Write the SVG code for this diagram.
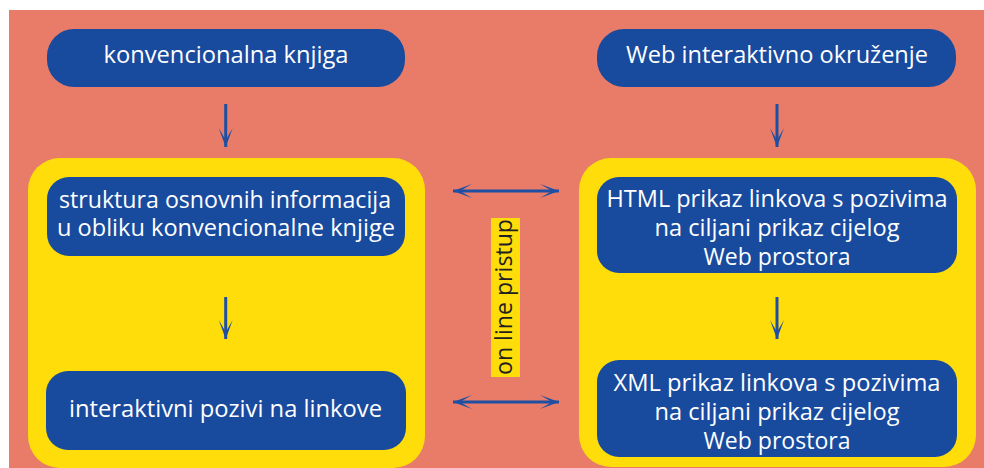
<svg xmlns="http://www.w3.org/2000/svg" width="984" height="468" viewBox="0 0 984 468">
<defs>
<style>
.bg{fill:#E87C69}
.panel{fill:#FFDD0B}
.node{fill:#184A9E}
.t{font-family:"Open Sans","Noto Sans","Liberation Sans",sans-serif;font-size:23px;fill:#FFFFFF;text-anchor:middle}
.lbl{font-family:"Open Sans","Noto Sans","Liberation Sans",sans-serif;font-size:24px;fill:#231F20;text-anchor:middle}
.c{stroke:#1E4FA3;stroke-width:3;fill:none}
</style>
<marker id="ah" markerUnits="userSpaceOnUse" markerWidth="24" markerHeight="18" viewBox="-21 -9 24 18" refX="0" refY="0" orient="auto-start-reverse">
<path d="M0,0 L-19,-7 L-7,0 L-19,7 Z" fill="#1E4FA3"/>
</marker>
</defs>
<rect class="bg" x="9" y="10" width="975" height="458"/>
<g id="panel-left"><rect class="panel" x="28" y="158" width="397" height="310" rx="32"/></g>
<g id="panel-right"><rect class="panel" x="579" y="158" width="397" height="309" rx="32"/></g>
<g id="node-konvencionalna">
<rect class="node" x="47" y="29" width="358" height="58" rx="27"/>
<text class="t" x="226" y="63" textLength="245" lengthAdjust="spacingAndGlyphs">konvencionalna knjiga</text>
</g>
<g id="node-web">
<rect class="node" x="597" y="29" width="359" height="58" rx="27"/>
<text class="t" x="777" y="63" textLength="302" lengthAdjust="spacingAndGlyphs">Web interaktivno okruženje</text>
</g>
<g id="node-struktura">
<rect class="node" x="47" y="177" width="358" height="79" rx="22"/>
<text class="t" x="225" y="208" textLength="332" lengthAdjust="spacingAndGlyphs">struktura osnovnih informacija</text>
<text class="t" x="226" y="236" textLength="338" lengthAdjust="spacingAndGlyphs">u obliku konvencionalne knjige</text>
</g>
<g id="node-interaktivni">
<rect class="node" x="46" y="371" width="360" height="79" rx="22"/>
<text class="t" x="225.5" y="417" textLength="313" lengthAdjust="spacingAndGlyphs">interaktivni pozivi na linkove</text>
</g>
<g id="node-html">
<rect class="node" x="597" y="177" width="360" height="96" rx="22"/>
<text class="t" x="777" y="207" textLength="341" lengthAdjust="spacingAndGlyphs">HTML prikaz linkova s pozivima</text>
<text class="t" x="777" y="236" textLength="245" lengthAdjust="spacingAndGlyphs">na ciljani prikaz cijelog</text>
<text class="t" x="777" y="265" textLength="147" lengthAdjust="spacingAndGlyphs">Web prostora</text>
</g>
<g id="node-xml">
<rect class="node" x="597" y="360" width="360" height="97" rx="22"/>
<text class="t" x="777" y="391" textLength="327" lengthAdjust="spacingAndGlyphs">XML prikaz linkova s pozivima</text>
<text class="t" x="777" y="420" textLength="245" lengthAdjust="spacingAndGlyphs">na ciljani prikaz cijelog</text>
<text class="t" x="777" y="449" textLength="147" lengthAdjust="spacingAndGlyphs">Web prostora</text>
</g>
<g id="label-online">
<rect class="panel" x="491" y="218" width="29" height="159"/>
<text class="lbl" transform="translate(512,297) rotate(-90)" x="0" y="0" textLength="156" lengthAdjust="spacingAndGlyphs">on line pristup</text>
</g>
<g id="connectors">
<line class="c" x1="225.7" y1="104" x2="225.7" y2="147" marker-end="url(#ah)"/>
<line class="c" x1="777" y1="104" x2="777" y2="147" marker-end="url(#ah)"/>
<line class="c" x1="225.7" y1="297" x2="225.7" y2="339" marker-end="url(#ah)"/>
<line class="c" x1="777" y1="297" x2="777" y2="339" marker-end="url(#ah)"/>
<line class="c" x1="453" y1="191" x2="559" y2="191" marker-start="url(#ah)" marker-end="url(#ah)"/>
<line class="c" x1="453" y1="402" x2="559" y2="402" marker-start="url(#ah)" marker-end="url(#ah)"/>
</g>
</svg>
